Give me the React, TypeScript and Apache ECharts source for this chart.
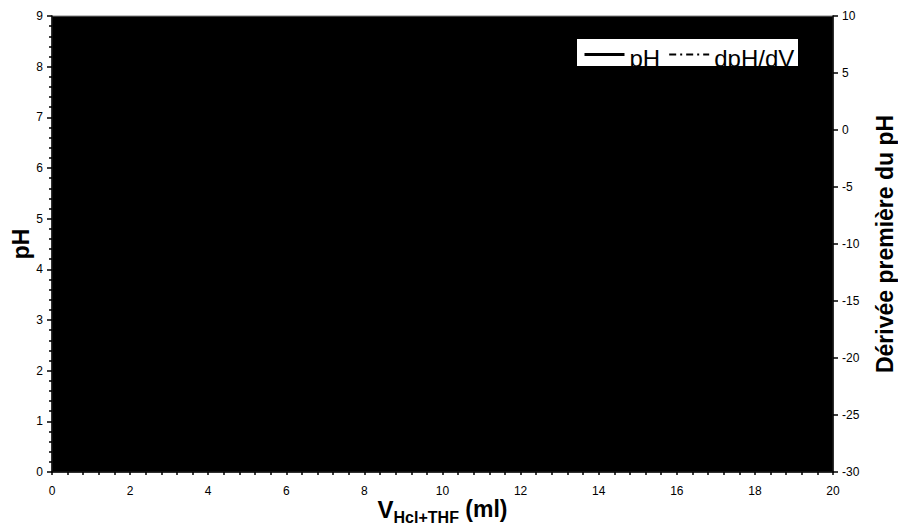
import React, { useEffect, useRef } from "react";
import * as echarts from "echarts";

// Axis ranges / ticks
const xTicks = [0, 2, 4, 6, 8, 10, 12, 14, 16, 18, 20];
const phTicks = [0, 1, 2, 3, 4, 5, 6, 7, 8, 9];
const derivTicks = [-30, -25, -20, -15, -10, -5, 0, 5, 10];

// The curves are drawn in black on a black plot area in the reference,
// so no point of them can be read: the series carry no values.
const seriesNames = ["pH", "dpH/dV"];
const phValues: [number, number][] = [];
const derivValues: [number, number][] = [];

const FONT = "Liberation Sans, Arial, Helvetica, sans-serif";

export default function App() {
  const ref = useRef<HTMLDivElement>(null);

  useEffect(() => {
    if (!ref.current) return;
    const chart = echarts.init(ref.current, undefined, { renderer: "svg" });
    const axisText = { color: "#000", fontFamily: FONT, fontSize: 12 };
    const hiddenSymbol = { color: "rgba(0,0,0,0)", borderColor: "rgba(0,0,0,0)", borderWidth: 0, opacity: 0 };
    chart.setOption({
      animation: false,
      backgroundColor: "#fff",
      textStyle: { fontFamily: FONT },
      grid: {
        left: 52,
        right: 65,
        top: 16,
        bottom: 58,
        outerBoundsMode: "none",
        containLabel: false,
        show: true,
        backgroundColor: "#000",
        borderColor: "#808080",
        borderWidth: 1,
      },
      legend: {
        left: 583,
        top: 46,
        padding: 0,
        itemGap: 8,
        itemWidth: 40,
        itemHeight: 14,
        backgroundColor: "transparent",
        formatter: "{a|{name}}",
        textStyle: {
          color: "#000",
          fontFamily: FONT,
          fontSize: 24,
          rich: {
            a: { color: "#000", fontFamily: FONT, fontSize: 24, padding: [7, 0, 0, 0] },
          },
        },
        data: [
          { name: seriesNames[0], itemStyle: hiddenSymbol, lineStyle: { width: 3, color: "#000", type: "solid" } },
          { name: seriesNames[1], itemStyle: hiddenSymbol, lineStyle: { width: 2, color: "#000", type: [7, 4, 2, 4] } },
        ],
      },
      graphic: [
        {
          type: "rect",
          left: 577,
          top: 39,
          shape: { width: 221, height: 27 },
          style: { fill: "#fff" },
          z: 1,
        },
      ],
      xAxis: {
        type: "value",
        min: xTicks[0],
        max: xTicks[xTicks.length - 1],
        interval: xTicks[1] - xTicks[0],
        name: "{v|V}{s|Hcl+THF}{n| (ml)}",
        nameLocation: "middle",
        nameGap: 23,
        nameMoveOverlap: false,
        nameTextStyle: {
          color: "#000",
          rich: {
            v: { fontFamily: FONT, fontSize: 24, fontWeight: "bold", color: "#000", lineHeight: 28 },
            s: {
              fontFamily: FONT,
              fontSize: 16,
              fontWeight: "bold",
              color: "#000",
              lineHeight: 16,
              padding: [16, 0, 0, 0],
            },
            n: { fontFamily: FONT, fontSize: 23, fontWeight: "bold", color: "#000", lineHeight: 28 },
          },
        },
        axisLine: { show: true, onZero: false, lineStyle: { color: "#000", width: 1.5 } },
        axisTick: { show: true, inside: false, length: 3, lineStyle: { color: "#000", width: 1.5 } },
        minorTick: { show: true, splitNumber: 5, length: 3, lineStyle: { color: "#000", width: 1.5 } },
        axisLabel: { ...axisText, margin: 13 },
        splitLine: { show: false },
      },
      yAxis: [
        {
          type: "value",
          position: "left",
          min: phTicks[0],
          max: phTicks[phTicks.length - 1],
          interval: phTicks[1] - phTicks[0],
          name: "pH",
          nameLocation: "middle",
          nameGap: 20,
          nameMoveOverlap: false,
          nameRotate: 90,
          nameTextStyle: { color: "#000", fontFamily: FONT, fontSize: 23, fontWeight: "bold" },
          axisLine: { show: true, onZero: false, lineStyle: { color: "#000", width: 1.5 } },
          axisTick: { show: true, inside: false, length: 5, lineStyle: { color: "#000", width: 1.5 } },
          minorTick: { show: true, splitNumber: 5, length: 3, lineStyle: { color: "#000", width: 1.5 } },
          axisLabel: { ...axisText, margin: 9 },
          splitLine: { show: false },
        },
        {
          type: "value",
          position: "right",
          min: derivTicks[0],
          max: derivTicks[derivTicks.length - 1],
          interval: derivTicks[1] - derivTicks[0],
          name: "Dérivée première du pH",
          nameLocation: "middle",
          nameGap: 40,
          nameMoveOverlap: false,
          nameRotate: 90,
          nameTextStyle: { color: "#000", fontFamily: FONT, fontSize: 23, fontWeight: "bold" },
          axisLine: { show: true, onZero: false, lineStyle: { color: "#000", width: 1.5 } },
          axisTick: { show: true, inside: false, length: 5, lineStyle: { color: "#000", width: 1.5 } },
          axisLabel: { ...axisText, margin: 9 },
          splitLine: { show: false },
        },
      ],
      series: [
        {
          name: seriesNames[0],
          type: "line",
          yAxisIndex: 0,
          data: phValues,
          symbol: "none",
          showSymbol: false,
          lineStyle: { color: "#000", width: 3, type: "solid" },
          itemStyle: { color: "#000" },
        },
        {
          name: seriesNames[1],
          type: "line",
          yAxisIndex: 1,
          data: derivValues,
          symbol: "none",
          showSymbol: false,
          lineStyle: { color: "#000", width: 2, type: [7, 4, 2, 4] },
          itemStyle: { color: "#000" },
        },
      ],
    });
    return () => chart.dispose();
  }, []);

  return <div ref={ref} style={{ width: 898, height: 530, position: "absolute", left: 0, top: 0 }} />;
}
